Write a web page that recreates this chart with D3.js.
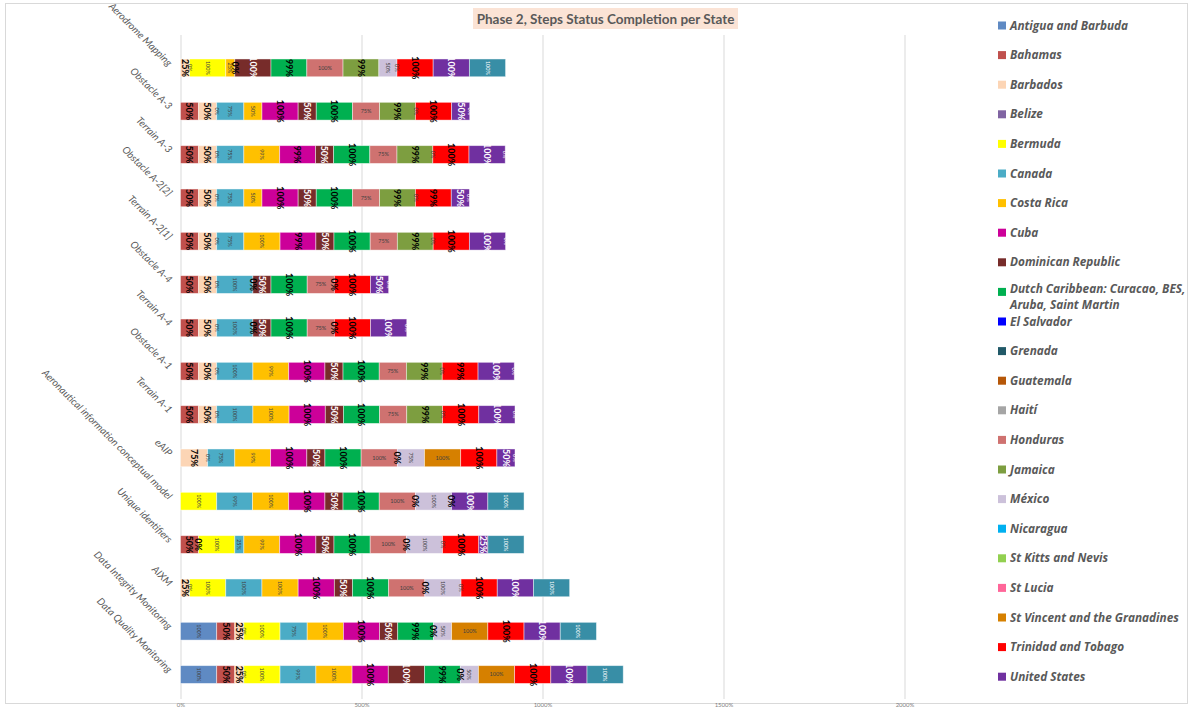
<!DOCTYPE html>
<html>
<head>
<meta charset="utf-8">
<script src="https://cdn.jsdelivr.net/npm/d3@7"></script>
<style>
  html, body { margin: 0; padding: 0; background: #fff; }
  svg { display: block; }
</style>
</head>
<body>
<svg id="chart" width="1193" height="707"></svg>
<script>
// Implementation steps, top to bottom
const steps = [
  "Aerodrome Mapping", "Obstacle A-3", "Terrain A-3", "Obstacle A-2[2]", "Terrain A-2[1]",
  "Obstacle A-4", "Terrain A-4", "Obstacle A-1", "Terrain A-1", "eAIP",
  "Aeronautical information conceptual model", "Unique identifiers", "AIXM",
  "Data Integrity Monitoring", "Data Quality Monitoring"
];

// Completion per state (%), one value per step; null = not reported
const n = null;
const antigua    = [n, n, n, n, n, n, n, n, n, n, n, n, n, 100, 100];
const bahamas    = [n, 50, 50, 50, 50, 50, 50, 50, 50, n, n, 50, n, 50, 50];
const barbados   = [25, 50, 50, 50, 50, 50, 50, 50, 50, 75, n, 0, 25, 25, 25];
const belize     = [0, n, n, n, n, n, n, n, n, n, n, n, 0, 0, 0];
const bermuda    = [100, 0, 0, 0, 0, 0, 0, 0, 0, 0, 100, 100, 100, 100, 100];
const canada     = [n, 75, 75, 75, 75, 100, 100, 100, 100, 75, 99, 25, 100, 75, 99];
const costaRica  = [25, 50, 99, 50, 100, n, n, 99, 100, 99, 100, 99, 100, 100, 100];
const cuba       = [0, 100, 99, 100, 99, 0, 0, 100, 100, 100, 100, 100, 100, 100, 100];
const dominican  = [100, 50, 50, 50, 50, 50, 50, 50, 50, 50, 50, 50, 50, 50, 100];
const dutch      = [99, 100, 100, 100, 100, 100, 100, 100, 100, 100, 100, 100, 100, 99, 99];
const elSalvador = [n, n, n, n, n, n, n, n, n, n, n, n, n, n, n];
const grenada    = [n, n, n, n, n, n, n, n, n, n, n, n, n, n, n];
const guatemala  = [n, n, n, n, n, n, n, n, n, n, n, n, n, n, n];
const haiti      = [n, n, n, n, n, n, n, n, n, n, n, n, n, n, n];
const honduras   = [100, 75, 75, 75, 75, 75, 75, 75, 75, 100, 100, 100, 100, n, n];
const jamaica    = [99, 99, 99, 99, 99, 0, 0, 99, 99, 0, 0, 0, 0, 0, 0];
const mexico     = [50, 0, 0, 0, 0, n, n, 0, 0, 75, 100, 100, 100, 50, 50];
const nicaragua  = [0, n, n, n, n, n, n, n, n, n, n, 0, 0, n, n];
const stKitts    = [n, n, n, n, n, n, n, n, n, n, n, n, n, n, n];
const stLucia    = [n, n, n, n, n, n, n, n, n, n, n, n, n, n, n];
const stVincent  = [n, n, n, n, n, n, n, n, n, 100, n, n, n, 100, 100];
const trinidad   = [100, 100, 100, 99, 100, 100, 100, 99, 100, 100, 0, 100, 100, 100, 100];
const usa        = [100, 50, 100, 50, 100, 50, 100, 100, 100, 50, 100, 25, 100, 100, 100];
const other      = [100, 0, 0, 0, 0, 0, 0, 0, 0, 0, 100, 100, 100, 100, 100];

const xTicks = [0, 500, 1000, 1500, 2000];

// Series in stacking order
const series = [
  { name: "Antigua and Barbuda", values: antigua, color: "#5F8AC3", label: "small" },
  { name: "Bahamas", values: bahamas, color: "#C0504D", label: "bold" },
  { name: "Barbados", values: barbados, color: "#FCD5B5", label: "bold" },
  { name: "Belize", values: belize, color: "#8064A2", label: "small" },
  { name: "Bermuda", values: bermuda, color: "#FFFF00", label: "small" },
  { name: "Canada", values: canada, color: "#4BACC6", label: "small" },
  { name: "Costa Rica", values: costaRica, color: "#FFC000", label: "small" },
  { name: "Cuba", values: cuba, color: "#CC0099", label: "bold" },
  { name: "Dominican Republic", values: dominican, color: "#772C2A", label: "boldWhite" },
  { name: "Dutch Caribbean: Curacao, BES, Aruba, Saint Martin", values: dutch, color: "#00B050", label: "bold" },
  { name: "El Salvador", values: elSalvador, color: "#0000FF", label: "small" },
  { name: "Grenada", values: grenada, color: "#215968", label: "small" },
  { name: "Guatemala", values: guatemala, color: "#B65708", label: "small" },
  { name: "Haití", values: haiti, color: "#A5A5A5", label: "small" },
  { name: "Honduras", values: honduras, color: "#CF7270", label: "flat" },
  { name: "Jamaica", values: jamaica, color: "#7D9E40", label: "bold" },
  { name: "México", values: mexico, color: "#CCC1DA", label: "small" },
  { name: "Nicaragua", values: nicaragua, color: "#00B0F0", label: "small" },
  { name: "St Kitts and Nevis", values: stKitts, color: "#92D050", label: "small" },
  { name: "St Lucia", values: stLucia, color: "#FF6699", label: "small" },
  { name: "St Vincent and the Granadines", values: stVincent, color: "#D68000", label: "flat" },
  { name: "Trinidad and Tobago", values: trinidad, color: "#FF0000", label: "bold" },
  { name: "United States", values: usa, color: "#7030A0", label: "boldWhite" },
  { name: "Other", values: other, color: "#388EA6", label: "smallWhite", hideInLegend: true }
];

const svg = d3.select("#chart");
const W = 1193, H = 707;

// outer frame
svg.append("rect").attr("x", 5.5).attr("y", 3.5).attr("width", W - 11).attr("height", H - 7)
  .attr("fill", "#fff").attr("stroke", "#D9D9D9").attr("stroke-width", 1);

// title
const titleG = svg.append("g");
titleG.append("rect").attr("x", 473).attr("y", 8).attr("width", 265).attr("height", 21)
  .attr("fill", "#FBE3D5");
titleG.append("text").attr("x", 605.5).attr("y", 23.5).attr("text-anchor", "middle")
  .attr("font-family", "Lato, 'Open Sans', sans-serif").attr("font-weight", "bold")
  .attr("font-size", 13.5).attr("fill", "#595959")
  .text("Phase 2, Steps Status Completion per State");

// scales
const x = d3.scaleLinear().domain([0, 2000]).range([180.5, 904.5]);
const y = d3.scaleBand().domain(steps).range([46.2, 696.2]).paddingInner(0.59).paddingOuter(0.295);

// gridlines
svg.append("g").selectAll("line").data(xTicks).join("line")
  .attr("x1", d => x(d) + 0.5).attr("x2", d => x(d) + 0.5)
  .attr("y1", 35).attr("y2", 699)
  .attr("stroke", "#D9D9D9").attr("stroke-width", 1);

// bottom axis labels
const xAxis = d3.axisBottom(x).tickValues(xTicks).tickSize(0).tickFormat(d => d + "%");
const gx = svg.append("g").attr("transform", "translate(0,699)").call(xAxis);
gx.select(".domain").remove();
gx.selectAll("text").attr("font-family", "Lato, sans-serif").attr("font-size", 6)
  .attr("fill", "#7f7f7f").attr("dy", "0.9em");

// stacked layout
const table = steps.map((s, i) => {
  const row = { step: s };
  series.forEach(se => { row[se.name] = se.values[i] == null ? 0 : se.values[i]; });
  return row;
});
const stack = d3.stack().keys(series.map(s => s.name));
const stacked = stack(table);

const barG = svg.append("g");
stacked.forEach((layer, si) => {
  const se = series[si];
  barG.append("g").selectAll("rect")
    .data(layer.filter(d => d[1] > d[0]))
    .join("rect")
    .attr("x", d => x(d[0]))
    .attr("y", d => y(d.data.step))
    .attr("width", d => x(d[1]) - x(d[0]))
    .attr("height", y.bandwidth())
    .attr("fill", se.color)
    .attr("stroke", "rgba(255,255,255,0.55)")
    .attr("stroke-width", 0.8);
});

// data labels
const labelStyle = {
  bold:       { size: 9, weight: "bold", fill: "#000", rotate: true },
  boldWhite:  { size: 9, weight: "bold", fill: "#fff", rotate: true },
  small:      { size: 5.5, weight: "normal", fill: "#404040", rotate: true },
  smallWhite: { size: 5.5, weight: "normal", fill: "#fff", rotate: true },
  flat:       { size: 5.5, weight: "normal", fill: "#404040", rotate: false }
};
const labelG = svg.append("g");
stacked.forEach((layer, si) => {
  const se = series[si];
  const st = labelStyle[se.label];
  layer.forEach((d, i) => {
    const v = se.values[i];
    if (v == null) return;
    const cx = (x(d[0]) + x(d[1])) / 2;
    const cy = y(d.data.step) + y.bandwidth() / 2;
    labelG.append("text")
      .attr("transform", `translate(${cx},${cy})` + (st.rotate ? " rotate(90)" : ""))
      .attr("text-anchor", "middle").attr("dy", "0.35em")
      .attr("font-family", "Lato, sans-serif")
      .attr("font-size", st.size).attr("font-weight", st.weight)
      .attr("fill", st.fill)
      .text(v + "%");
  });
});

// category labels, slanted at 45 degrees and ending at each bar
svg.append("g").selectAll("text").data(steps).join("text")
  .attr("transform", d => `translate(168,${y(d) + y.bandwidth() / 2 - 1}) rotate(45)`)
  .attr("text-anchor", "end")
  .attr("font-family", "Lato, sans-serif").attr("font-style", "italic")
  .attr("font-size", 10).attr("fill", "#595959")
  .text(d => d);

// legend
const legendItems = series.filter(s => !s.hideInLegend);
const lg = svg.append("g");
const ly0 = 25.5, lstep = 29.6;
legendItems.forEach((s, i) => {
  const yy = ly0 + i * lstep;
  lg.append("rect").attr("x", 998).attr("y", yy - 4).attr("width", 8).attr("height", 8).attr("fill", s.color);
  const t = lg.append("text").attr("x", 1010).attr("y", yy + 4)
    .attr("font-family", "'Open Sans', sans-serif").attr("font-style", "italic")
    .attr("font-weight", "bold").attr("font-size", 11.8).attr("fill", "#595959");
  if (s.name.startsWith("Dutch")) {
    t.attr("y", yy + 1);
    t.append("tspan").attr("x", 1010).text("Dutch Caribbean: Curacao, BES,");
    t.append("tspan").attr("x", 1010).attr("dy", 16).text("Aruba, Saint Martin");
  } else {
    t.text(s.name);
  }
});
</script>
</body>
</html>
